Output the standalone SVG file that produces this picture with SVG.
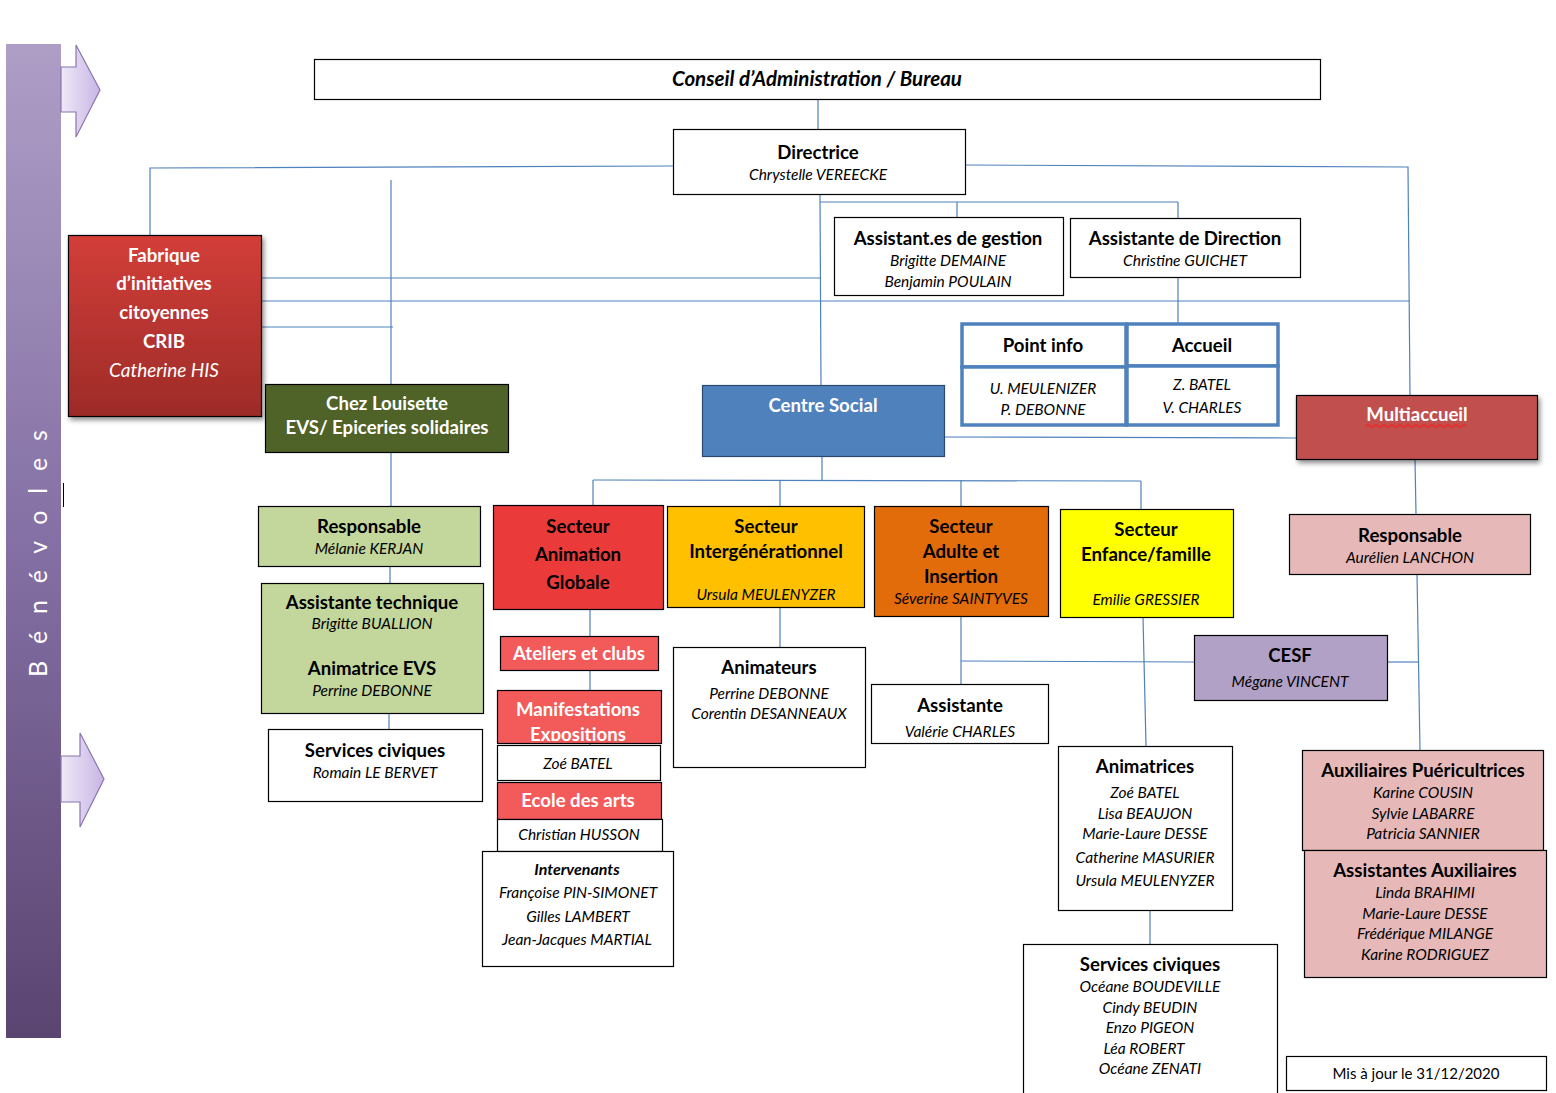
<svg xmlns="http://www.w3.org/2000/svg" width="1556" height="1093" viewBox="0 0 1556 1093">
<style>
text{font-family:Lato,"Liberation Sans",sans-serif;text-anchor:middle;fill:#000}
.t{font-weight:bold;font-size:18.6px}
.n{font-style:italic;font-size:15.5px}
.w{fill:#fff}
.box{stroke:#000;stroke-width:1.2}
.c{fill:none;stroke:#4f81bd;stroke-width:1.2}
.tb{fill:#fff;stroke:#4f81bd;stroke-width:3.5}
</style>
<defs>
<linearGradient id="bar" x1="0" y1="0" x2="0" y2="1">
<stop offset="0" stop-color="#ae9ec6"/><stop offset="0.5" stop-color="#8470a4"/><stop offset="1" stop-color="#5a4571"/>
</linearGradient>
<linearGradient id="arr" x1="0" y1="0" x2="1" y2="0">
<stop offset="0" stop-color="#efe9f7"/><stop offset="1" stop-color="#c7b5e4"/>
</linearGradient>
<linearGradient id="fab" x1="0" y1="0" x2="0" y2="1">
<stop offset="0" stop-color="#d33e39"/><stop offset="1" stop-color="#9d2b28"/>
</linearGradient>
<filter id="sh" x="-10%" y="-10%" width="130%" height="130%">
<feDropShadow dx="2" dy="3" stdDeviation="2.5" flood-color="#000" flood-opacity="0.45"/>
</filter>
<clipPath id="manclip"><rect x="497" y="690" width="164" height="51"/></clipPath>
</defs>

<g id="benevoles">
<rect x="6" y="44" width="55" height="994" fill="url(#bar)"/>
<text transform="translate(47,551) rotate(-90)" class="w" style="font-size:25px;letter-spacing:5.2px">B é n é v o l e s</text>
<path d="M61,67 H76 V45 L100,90 L76,137 V112 H61 Z" fill="url(#arr)" stroke="#8a76b0" stroke-width="1.2"/>
<path d="M61,756 H80 V733 L104,779 L80,827 V802 H61 Z" fill="url(#arr)" stroke="#8a76b0" stroke-width="1.2"/>
<line x1="63.5" y1="483" x2="63.5" y2="507" stroke="#000" stroke-width="1"/>
</g>

<g id="connectors">
<line class="c" x1="818" y1="99" x2="818" y2="129"/>
<polyline class="c" points="673,166 150,168 150,235"/>
<line class="c" x1="391" y1="180" x2="391" y2="384"/>
<line class="c" x1="391" y1="452" x2="391" y2="506"/>
<line class="c" x1="262" y1="278" x2="820" y2="278"/>
<line class="c" x1="262" y1="301" x2="1410" y2="301"/>
<line class="c" x1="262" y1="327" x2="393" y2="327"/>
<polyline class="c" points="965,165 1408,167 1410,395"/>
<line class="c" x1="820" y1="194" x2="821" y2="385"/>
<line class="c" x1="820" y1="202" x2="1178" y2="202"/>
<line class="c" x1="957" y1="202" x2="957" y2="217"/>
<line class="c" x1="1178" y1="202" x2="1178" y2="218"/>
<line class="c" x1="1178" y1="277" x2="1178" y2="323"/>
<line class="c" x1="944" y1="437" x2="1296" y2="438"/>
<line class="c" x1="822" y1="456" x2="822" y2="480"/>
<line class="c" x1="593" y1="480" x2="1141" y2="481"/>
<line class="c" x1="593" y1="480" x2="593" y2="505"/>
<line class="c" x1="780" y1="480" x2="780" y2="506"/>
<line class="c" x1="961" y1="480" x2="961" y2="506"/>
<line class="c" x1="1141" y1="481" x2="1141" y2="509"/>
<line class="c" x1="390" y1="566" x2="390" y2="583"/>
<line class="c" x1="389" y1="713" x2="389" y2="729"/>
<line class="c" x1="590" y1="609" x2="590" y2="636"/>
<line class="c" x1="590" y1="670" x2="590" y2="745"/>
<line class="c" x1="780" y1="607" x2="780" y2="647"/>
<line class="c" x1="961" y1="616" x2="961" y2="684"/>
<line class="c" x1="961" y1="661" x2="1194" y2="662"/>
<line class="c" x1="1143" y1="617" x2="1146" y2="746"/>
<line class="c" x1="1150" y1="910" x2="1150" y2="944"/>
<line class="c" x1="1415" y1="459" x2="1416" y2="514"/>
<line class="c" x1="1417" y1="574" x2="1420" y2="750"/>
<line class="c" x1="1387" y1="662" x2="1418" y2="662"/>
</g>

<g id="conseil">
<rect class="box" x="314.5" y="59.5" width="1006" height="40" fill="#fff"/>
<text x="817" y="86" class="t" style="font-style:italic;font-size:20.5px">Conseil d’Administration / Bureau</text>
</g>

<g id="directrice">
<rect class="box" x="673.5" y="129.5" width="292" height="65" fill="#fff"/>
<text x="818" y="159" class="t">Directrice</text>
<text x="818" y="180" class="n">Chrystelle VEREECKE</text>
</g>

<g id="assistants-gestion">
<rect class="box" x="834.5" y="217.5" width="229" height="78" fill="#fff"/>
<text x="948" y="245" class="t">Assistant.es de gestion</text>
<text x="948" y="266" class="n">Brigitte DEMAINE</text>
<text x="948" y="287" class="n">Benjamin POULAIN</text>
</g>

<g id="assistante-direction">
<rect class="box" x="1070.5" y="218.5" width="230" height="59" fill="#fff"/>
<text x="1185" y="245" class="t">Assistante de Direction</text>
<text x="1185" y="266" class="n">Christine GUICHET</text>
</g>

<g id="point-info">
<rect class="tb" x="962" y="324" width="164" height="43"/>
<rect class="tb" x="962" y="367" width="164" height="58"/>
<text x="1043" y="352" class="t">Point info</text>
<text x="1043" y="394" class="n">U. MEULENIZER</text>
<text x="1043" y="415" class="n">P. DEBONNE</text>
</g>

<g id="accueil">
<rect class="tb" x="1127" y="324" width="151" height="42"/>
<rect class="tb" x="1127" y="366" width="151" height="59"/>
<text x="1202" y="352" class="t">Accueil</text>
<text x="1202" y="390" class="n">Z. BATEL</text>
<text x="1202" y="413" class="n">V. CHARLES</text>
</g>

<g id="fabrique">
<rect x="68.5" y="235.5" width="193" height="181" fill="url(#fab)" stroke="#000" stroke-width="1.2" filter="url(#sh)"/>
<text x="164" y="262" class="t w">Fabrique</text>
<text x="164" y="290" class="t w">d’initiatives</text>
<text x="164" y="319" class="t w">citoyennes</text>
<text x="164" y="348" class="t w">CRIB</text>
<text x="164" y="377" class="w" style="font-style:italic;font-size:19px">Catherine HIS</text>
</g>

<g id="chez-louisette">
<rect class="box" x="265.5" y="384.5" width="243" height="68" fill="#4f6228"/>
<text x="387" y="410" class="t w">Chez Louisette</text>
<text x="387" y="434" class="t w">EVS/ Epiceries solidaires</text>
</g>

<g id="centre-social">
<rect x="702.5" y="385.5" width="242" height="71" fill="#4f81bd" stroke="#2c4a70" stroke-width="1.2"/>
<text x="823" y="412" class="t w">Centre Social</text>
</g>

<g id="multiaccueil">
<rect x="1296.5" y="395.5" width="241" height="64" fill="#c0504d" stroke="#000" stroke-width="1.2" filter="url(#sh)"/>
<text x="1417" y="421" class="t w">Multiaccueil</text>
<path d="M1366,426 q2,-2.5 4,0 t4,0 t4,0 t4,0 t4,0 t4,0 t4,0 t4,0 t4,0 t4,0 t4,0 t4,0 t4,0 t4,0 t4,0 t4,0 t4,0 t4,0 t4,0 t4,0 t4,0 t4,0 t4,0 t4,0 t4,0" fill="none" stroke="#ff1a1a" stroke-width="1.2"/>
</g>

<g id="responsable-evs">
<rect class="box" x="258.5" y="506.5" width="222" height="60" fill="#c3d69b"/>
<text x="369" y="533" class="t">Responsable</text>
<text x="369" y="554" class="n">Mélanie KERJAN</text>
</g>

<g id="assistante-technique">
<rect class="box" x="261.5" y="583.5" width="222" height="130" fill="#c3d69b"/>
<text x="372" y="609" class="t">Assistante technique</text>
<text x="372" y="629" class="n">Brigitte BUALLION</text>
<text x="372" y="675" class="t">Animatrice EVS</text>
<text x="372" y="696" class="n">Perrine DEBONNE</text>
</g>

<g id="services-civiques-evs">
<rect class="box" x="268.5" y="729.5" width="214" height="72" fill="#fff"/>
<text x="375" y="757" class="t">Services civiques</text>
<text x="375" y="778" class="n">Romain LE BERVET</text>
</g>

<g id="secteur-animation">
<rect class="box" x="493.5" y="505.5" width="170" height="104" fill="#ea3a3a"/>
<text x="578" y="533" class="t">Secteur</text>
<text x="578" y="561" class="t">Animation</text>
<text x="578" y="589" class="t">Globale</text>
</g>

<g id="ateliers">
<rect class="box" x="500.5" y="636.5" width="158" height="34" fill="#f35a5a"/>
<text x="579" y="660" class="t w">Ateliers et clubs</text>
</g>

<g id="manifestations">
<rect class="box" x="497.5" y="690.5" width="164" height="53" fill="#f35a5a"/>
<g clip-path="url(#manclip)">
<text x="578" y="716" class="t w">Manifestations</text>
<text x="578" y="741" class="t w">Expositions</text>
</g>
</g>

<g id="zoe-batel">
<rect class="box" x="497.5" y="745.5" width="163" height="35" fill="#fff"/>
<text x="578" y="769" class="n">Zoé BATEL</text>
</g>

<g id="ecole-arts">
<rect class="box" x="497.5" y="782.5" width="164" height="37" fill="#f35a5a"/>
<text x="578" y="807" class="t w">Ecole des arts</text>
</g>

<g id="christian-husson">
<rect class="box" x="497.5" y="819.5" width="165" height="32" fill="#fff"/>
<text x="579" y="840" class="n">Christian HUSSON</text>
</g>

<g id="intervenants">
<rect class="box" x="482.5" y="851.5" width="191" height="115" fill="#fff"/>
<text x="577" y="875" style="font-weight:bold;font-style:italic;font-size:16px">Intervenants</text>
<text x="578" y="898" class="n">Françoise PIN-SIMONET</text>
<text x="578" y="922" class="n">Gilles LAMBERT</text>
<text x="577" y="945" class="n">Jean-Jacques MARTIAL</text>
</g>

<g id="secteur-intergenerationnel">
<rect class="box" x="667.5" y="506.5" width="197" height="101" fill="#ffc000"/>
<text x="766" y="533" class="t">Secteur</text>
<text x="766" y="558" class="t">Intergénérationnel</text>
<text x="766" y="600" class="n">Ursula MEULENYZER</text>
</g>

<g id="animateurs">
<rect class="box" x="673.5" y="647.5" width="192" height="120" fill="#fff"/>
<text x="769" y="674" class="t">Animateurs</text>
<text x="769" y="699" class="n">Perrine DEBONNE</text>
<text x="769" y="719" class="n">Corentin DESANNEAUX</text>
</g>

<g id="secteur-adulte">
<rect class="box" x="874.5" y="506.5" width="174" height="110" fill="#e36c0a"/>
<text x="961" y="533" class="t">Secteur</text>
<text x="961" y="558" class="t">Adulte et</text>
<text x="961" y="583" class="t">Insertion</text>
<text x="961" y="604" class="n">Séverine SAINTYVES</text>
</g>

<g id="assistante-adulte">
<rect class="box" x="871.5" y="684.5" width="177" height="59" fill="#fff"/>
<text x="960" y="712" class="t">Assistante</text>
<text x="960" y="737" class="n">Valérie CHARLES</text>
</g>

<g id="secteur-enfance">
<rect class="box" x="1060.5" y="509.5" width="173" height="108" fill="#ffff00"/>
<text x="1146" y="536" class="t">Secteur</text>
<text x="1146" y="561" class="t">Enfance/famille</text>
<text x="1146" y="605" class="n">Emilie GRESSIER</text>
</g>

<g id="cesf">
<rect class="box" x="1194.5" y="635.5" width="193" height="65" fill="#b2a1c7"/>
<text x="1290" y="662" class="t">CESF</text>
<text x="1290" y="687" class="n">Mégane VINCENT</text>
</g>

<g id="animatrices">
<rect class="box" x="1058.5" y="746.5" width="174" height="164" fill="#fff"/>
<text x="1145" y="773" class="t">Animatrices</text>
<text x="1145" y="798" class="n">Zoé BATEL</text>
<text x="1145" y="819" class="n">Lisa BEAUJON</text>
<text x="1145" y="839" class="n">Marie-Laure DESSE</text>
<text x="1145" y="863" class="n">Catherine MASURIER</text>
<text x="1145" y="886" class="n">Ursula MEULENYZER</text>
</g>

<g id="services-civiques-enfance">
<rect class="box" x="1023.5" y="944.5" width="254" height="155" fill="#fff"/>
<text x="1150" y="971" class="t">Services civiques</text>
<text x="1150" y="992" class="n">Océane BOUDEVILLE</text>
<text x="1150" y="1013" class="n">Cindy BEUDIN</text>
<text x="1150" y="1033" class="n">Enzo PIGEON</text>
<text x="1144" y="1054" class="n">Léa ROBERT</text>
<text x="1150" y="1074" class="n">Océane ZENATI</text>
</g>

<g id="responsable-multiaccueil">
<rect class="box" x="1289.5" y="514.5" width="241" height="60" fill="#e6b9b8"/>
<text x="1410" y="542" class="t">Responsable</text>
<text x="1410" y="563" class="n">Aurélien LANCHON</text>
</g>

<g id="auxiliaires-puericultrices">
<rect class="box" x="1302.5" y="750.5" width="241" height="100" fill="#e6b9b8"/>
<text x="1423" y="777" class="t">Auxiliaires Puéricultrices</text>
<text x="1423" y="798" class="n">Karine COUSIN</text>
<text x="1423" y="819" class="n">Sylvie LABARRE</text>
<text x="1423" y="839" class="n">Patricia SANNIER</text>
</g>

<g id="assistantes-auxiliaires">
<rect class="box" x="1304.5" y="850.5" width="242" height="127" fill="#e6b9b8"/>
<text x="1425" y="877" class="t">Assistantes Auxiliaires</text>
<text x="1425" y="898" class="n">Linda BRAHIMI</text>
<text x="1425" y="919" class="n">Marie-Laure DESSE</text>
<text x="1425" y="939" class="n">Frédérique MILANGE</text>
<text x="1425" y="960" class="n">Karine RODRIGUEZ</text>
</g>

<g id="mise-a-jour">
<rect class="box" x="1286.5" y="1056.5" width="260" height="34" fill="#fff"/>
<text x="1416" y="1079" style="font-size:15px">Mis à jour le 31/12/2020</text>
</g>
</svg>
